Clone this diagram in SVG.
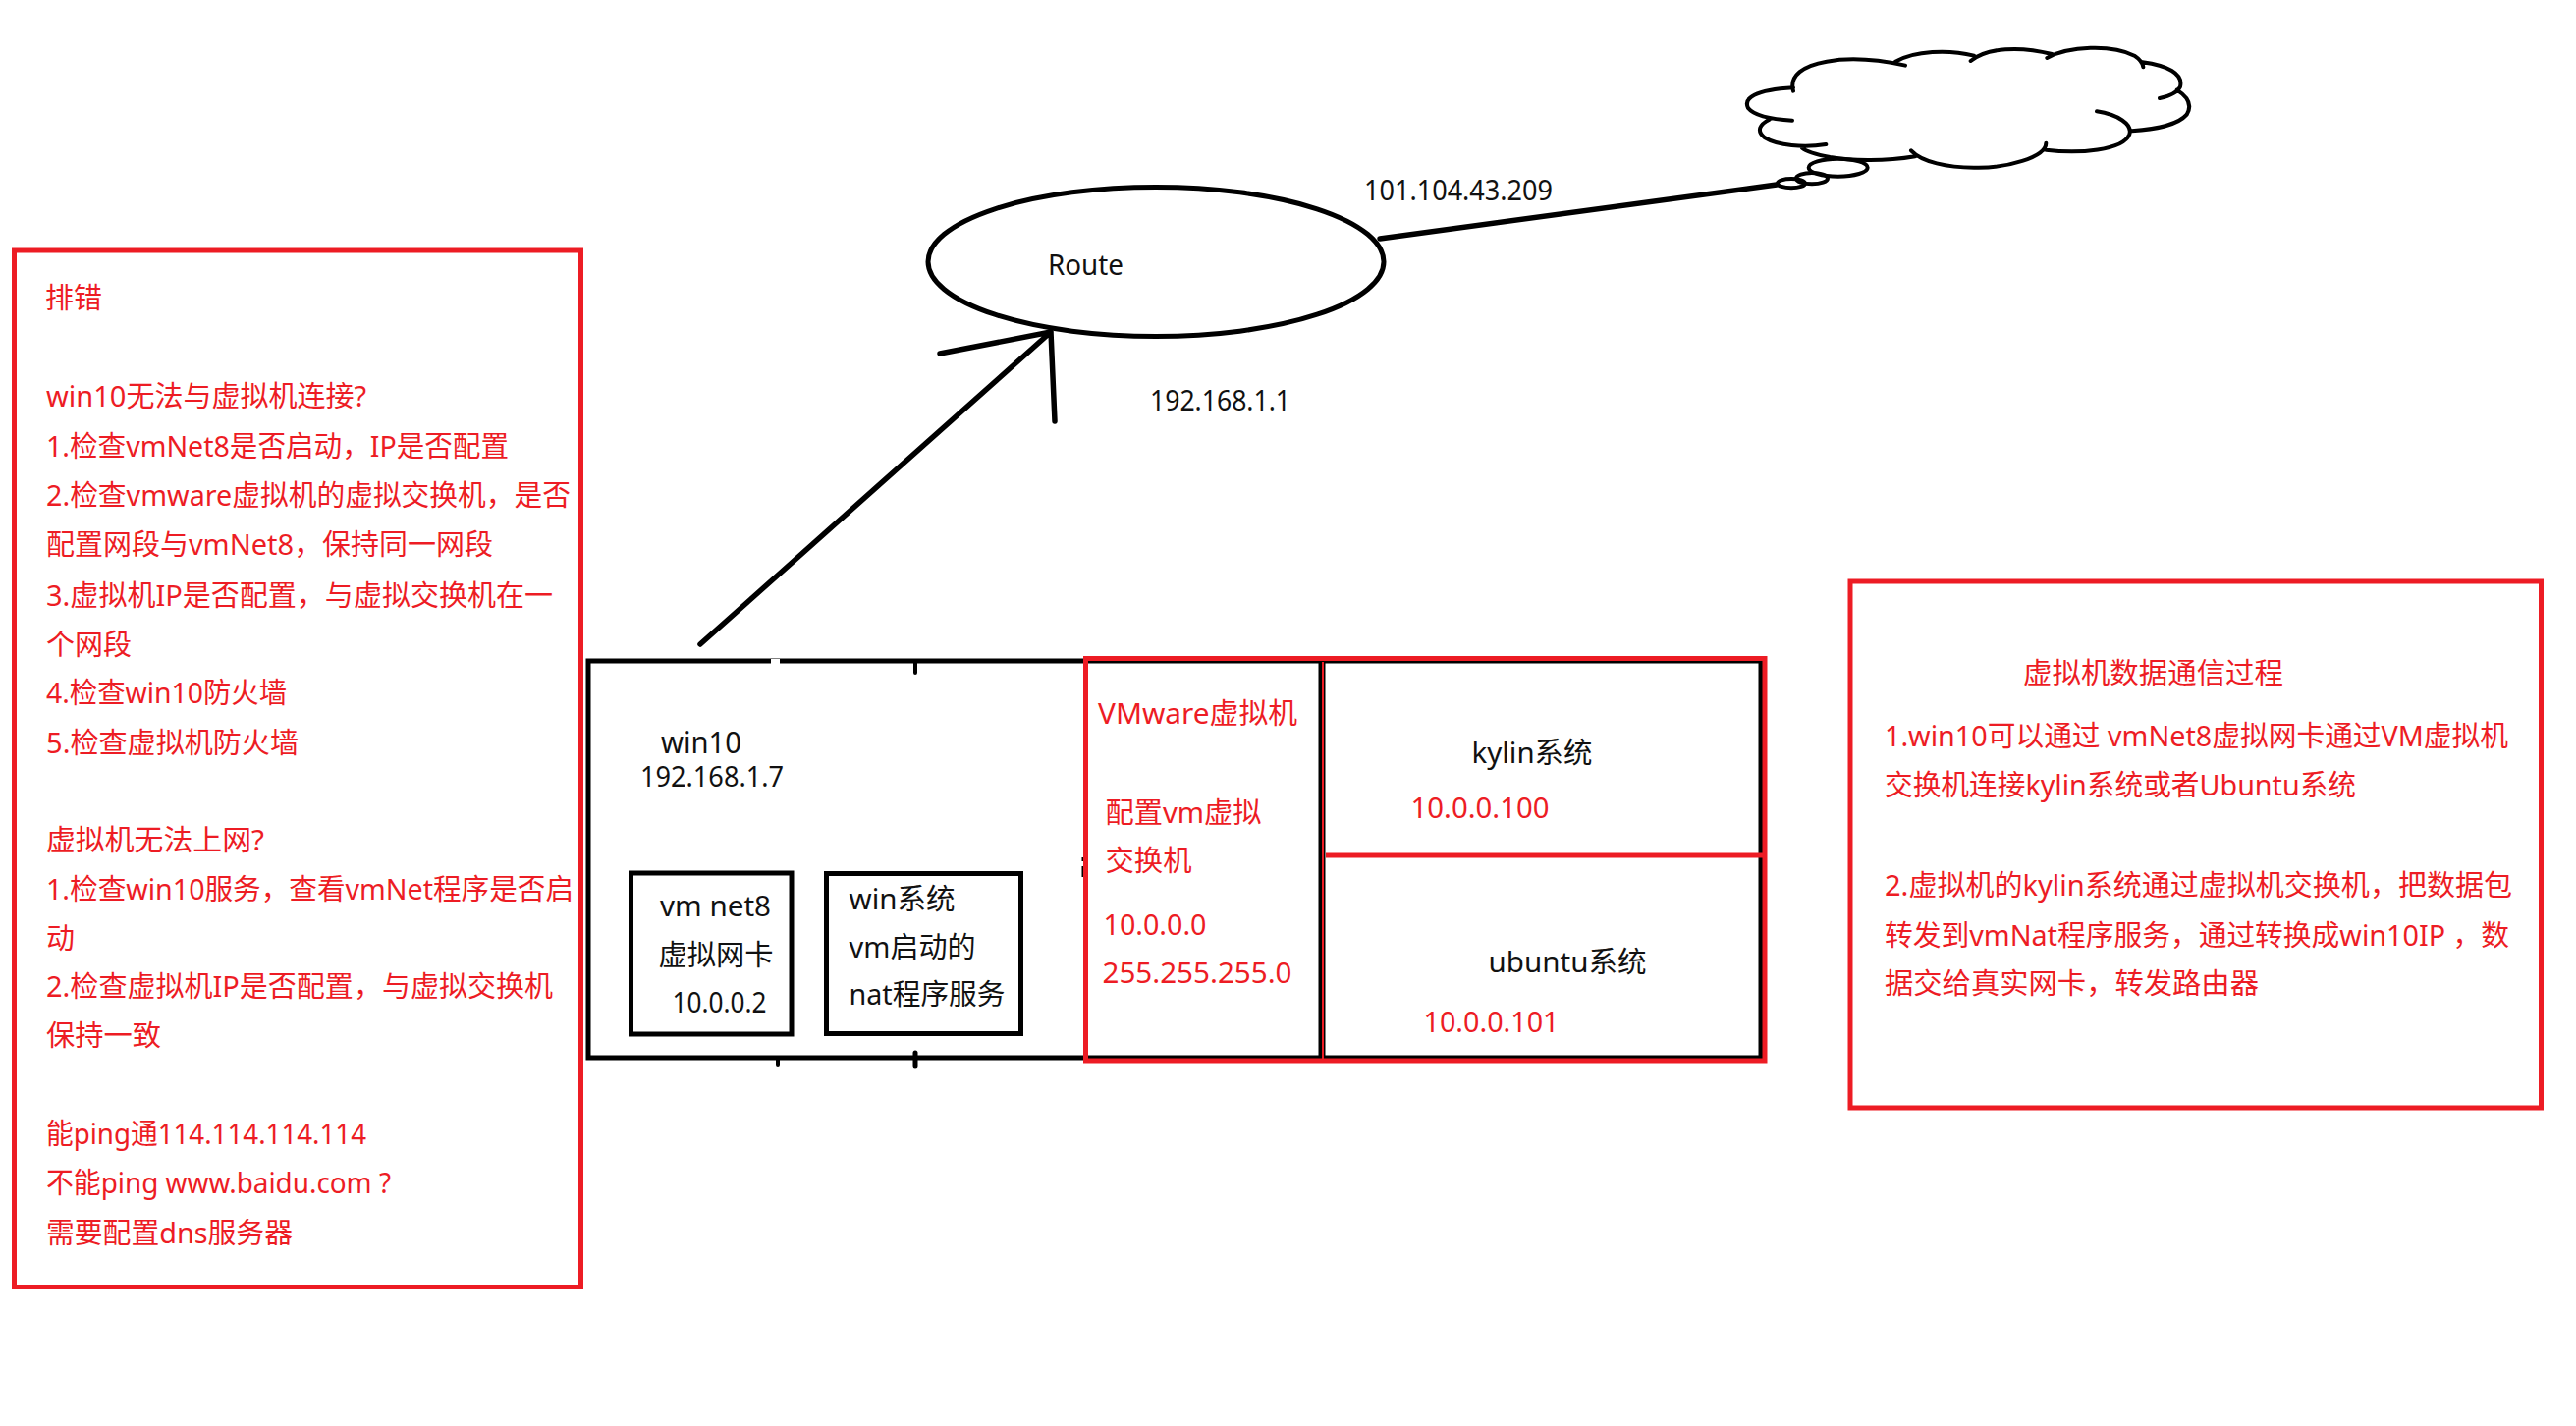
<svg xmlns="http://www.w3.org/2000/svg" width="2623" height="1452" viewBox="0 0 2623 1452">
<style>
text{font-family:"Noto Sans","Noto Sans CJK SC",sans-serif;font-size:29px}
.r{fill:#ed1c24}.k{fill:#111}
.rb{fill:none;stroke:#ed1c24;stroke-width:5}
.kb{fill:none;stroke:#000;stroke-width:5}
.c{fill:none;stroke:#000;stroke-width:12;stroke-linecap:round}
.l{fill:none;stroke:#000;stroke-width:5.500;stroke-linecap:round;stroke-linejoin:round}
</style>
<rect width="2623" height="1452" fill="#fff"/>
<g id="connectors">
<path class="l" d="M713 656L1070 338M957 360L1070 338L1074 429"/>
<path class="l" d="M1405 243L1809 188"/>
</g>
<g id="route">
<ellipse class="kb" cx="1177" cy="266.500" rx="232" ry="76"/>
<text class="k" x="1067" y="280" textLength="77" lengthAdjust="spacingAndGlyphs">Route</text>
<text class="k" x="1171" y="418" textLength="143" lengthAdjust="spacingAndGlyphs">192.168.1.1</text>
<text class="k" x="1389" y="204" textLength="192" lengthAdjust="spacingAndGlyphs">101.104.43.209</text>
</g>
<g id="cloud" transform="translate(1750 20) scale(.33333)">
<path class="c" d="M228 218C215 170 260 140 330 128C400 115 470 118 570 140M540 128C600 95 700 90 780 110M770 126C820 85 920 80 1018 105M1003 117C1070 80 1200 75 1270 110C1285 120 1295 130 1297 145M1295 130C1370 140 1420 165 1410 205C1400 225 1370 235 1347 240M1400 215C1440 240 1445 265 1430 290C1400 325 1330 335 1262 340M1155 280C1220 290 1265 320 1255 350C1235 400 1100 410 1000 398M1000 377C1000 420 880 455 780 452C700 452 620 435 588 400M600 418C500 435 400 430 340 420C300 412 270 405 255 392M328 381C260 392 180 385 140 360C115 340 125 320 155 305M225 308C170 305 110 295 90 270C75 240 110 215 228 208"/>
<ellipse class="c" cx="365" cy="452" rx="90" ry="27"/>
<ellipse class="c" cx="285" cy="485" rx="48" ry="17"/>
<ellipse class="c" cx="222" cy="500" rx="42" ry="14"/>
</g>
<g id="win10">
<path class="kb" d="M1105 673H599V1077H1105"/>
<path d="M932 675V685M792 1079V1084" stroke="#000" stroke-width="4" fill="none" stroke-linecap="round"/>
<path d="M932 1072V1085" stroke="#000" stroke-width="5" fill="none" stroke-linecap="round"/>
<path d="M1103 873V877M1103 882V893" stroke="#000" stroke-width="3" fill="none"/>
<rect x="785" y="671" width="9" height="5" fill="#fff"/>
<text class="k" x="673" y="767" style="font-size:30px" textLength="82" lengthAdjust="spacingAndGlyphs">win10</text>
<text class="k" x="652" y="801" textLength="146" lengthAdjust="spacingAndGlyphs">192.168.1.7</text>
</g>
<g id="vmnet8">
<rect class="kb" x="642.500" y="889" width="163.500" height="164"/>
<text class="k" x="672" y="933" textLength="113" lengthAdjust="spacingAndGlyphs">vm net8</text>
<text class="k" x="670.500" y="983" textLength="117" lengthAdjust="spacingAndGlyphs">虚拟网卡</text>
<text class="k" x="684.500" y="1031" textLength="96" lengthAdjust="spacingAndGlyphs">10.0.0.2</text>
</g>
<g id="nat">
<rect class="kb" x="841.500" y="889.500" width="198" height="163"/>
<text class="k" x="864.500" y="926" textLength="108" lengthAdjust="spacingAndGlyphs">win系统</text>
<text class="k" x="864.500" y="975" textLength="129" lengthAdjust="spacingAndGlyphs">vm启动的</text>
<text class="k" x="864.500" y="1023" textLength="159" lengthAdjust="spacingAndGlyphs">nat程序服务</text>
</g>
<g id="vmware">
<path class="kb" d="M1105 673H1793V1077H1105"/>
<path d="M1346 674V1078" stroke="#000" stroke-width="7" fill="none"/>
<path d="M1347 674V1078" stroke="#ed1c24" stroke-width="2" fill="none"/>
<path d="M1350 871H1795" stroke="#ed1c24" stroke-width="5" fill="none"/>
<rect class="rb" x="1105.500" y="670.500" width="691.500" height="409.500"/>
<text class="r" x="1118" y="736.500" textLength="203" lengthAdjust="spacingAndGlyphs">VMware虚拟机</text>
<text class="r" x="1125.500" y="838" textLength="159" lengthAdjust="spacingAndGlyphs">配置vm虚拟</text>
<text class="r" x="1125.500" y="887" textLength="88" lengthAdjust="spacingAndGlyphs">交换机</text>
<text class="r" x="1123.500" y="952" textLength="105" lengthAdjust="spacingAndGlyphs">10.0.0.0</text>
<text class="r" x="1122.500" y="1001" textLength="193" lengthAdjust="spacingAndGlyphs">255.255.255.0</text>
</g>
<g id="kylin">
<text class="k" x="1498.500" y="777" textLength="123" lengthAdjust="spacingAndGlyphs">kylin系统</text>
<text class="r" x="1436.500" y="833" textLength="141" lengthAdjust="spacingAndGlyphs">10.0.0.100</text>
</g>
<g id="ubuntu">
<text class="k" x="1515.500" y="989.500" textLength="161" lengthAdjust="spacingAndGlyphs">ubuntu系统</text>
<text class="r" x="1449.500" y="1051" textLength="138" lengthAdjust="spacingAndGlyphs">10.0.0.101</text>
</g>
<g id="troubleshoot">
<rect class="rb" x="14.500" y="255" width="577" height="1055.500"/>
<text class="r" x="46" y="313.500" textLength="58" lengthAdjust="spacingAndGlyphs">排错</text>
<text class="r" x="47" y="413.500" textLength="326" lengthAdjust="spacingAndGlyphs">win10无法与虚拟机连接?</text>
<text class="r" x="47" y="464.500" textLength="471" lengthAdjust="spacingAndGlyphs">1.检查vmNet8是否启动，IP是否配置</text>
<text class="r" x="47" y="514.500" textLength="534" lengthAdjust="spacingAndGlyphs">2.检查vmware虚拟机的虚拟交换机，是否</text>
<text class="r" x="47" y="565" textLength="455" lengthAdjust="spacingAndGlyphs">配置网段与vmNet8，保持同一网段</text>
<text class="r" x="47" y="616.500" textLength="516" lengthAdjust="spacingAndGlyphs">3.虚拟机IP是否配置，与虚拟交换机在一</text>
<text class="r" x="47" y="666.500" textLength="87" lengthAdjust="spacingAndGlyphs">个网段</text>
<text class="r" x="47" y="716" textLength="245" lengthAdjust="spacingAndGlyphs">4.检查win10防火墙</text>
<text class="r" x="47" y="766.500" textLength="257" lengthAdjust="spacingAndGlyphs">5.检查虚拟机防火墙</text>
<text class="r" x="47" y="866" textLength="222" lengthAdjust="spacingAndGlyphs">虚拟机无法上网?</text>
<text class="r" x="47" y="916" textLength="537" lengthAdjust="spacingAndGlyphs">1.检查win10服务，查看vmNet程序是否启</text>
<text class="r" x="47" y="966" textLength="29" lengthAdjust="spacingAndGlyphs">动</text>
<text class="r" x="47" y="1014.500" textLength="516" lengthAdjust="spacingAndGlyphs">2.检查虚拟机IP是否配置，与虚拟交换机</text>
<text class="r" x="47" y="1064.500" textLength="117" lengthAdjust="spacingAndGlyphs">保持一致</text>
<text class="r" x="47" y="1165" textLength="326" lengthAdjust="spacingAndGlyphs">能ping通114.114.114.114</text>
<text class="r" x="47" y="1215" textLength="351" lengthAdjust="spacingAndGlyphs">不能ping www.baidu.com ?</text>
<text class="r" x="47" y="1266" textLength="251" lengthAdjust="spacingAndGlyphs">需要配置dns服务器</text>
</g>
<g id="process">
<rect class="rb" x="1884" y="592" width="703.500" height="536"/>
<text class="r" x="2060" y="695.500" textLength="265" lengthAdjust="spacingAndGlyphs">虚拟机数据通信过程</text>
<text class="r" x="1919" y="760" textLength="635" lengthAdjust="spacingAndGlyphs">1.win10可以通过 vmNet8虚拟网卡通过VM虚拟机</text>
<text class="r" x="1919" y="810" textLength="480" lengthAdjust="spacingAndGlyphs">交换机连接kylin系统或者Ubuntu系统</text>
<text class="r" x="1919" y="912" textLength="639" lengthAdjust="spacingAndGlyphs">2.虚拟机的kylin系统通过虚拟机交换机，把数据包</text>
<text class="r" x="1919" y="963" textLength="636" lengthAdjust="spacingAndGlyphs">转发到vmNat程序服务，通过转换成win10IP ，数</text>
<text class="r" x="1919" y="1012" textLength="381" lengthAdjust="spacingAndGlyphs">据交给真实网卡，转发路由器</text>
</g>
</svg>
